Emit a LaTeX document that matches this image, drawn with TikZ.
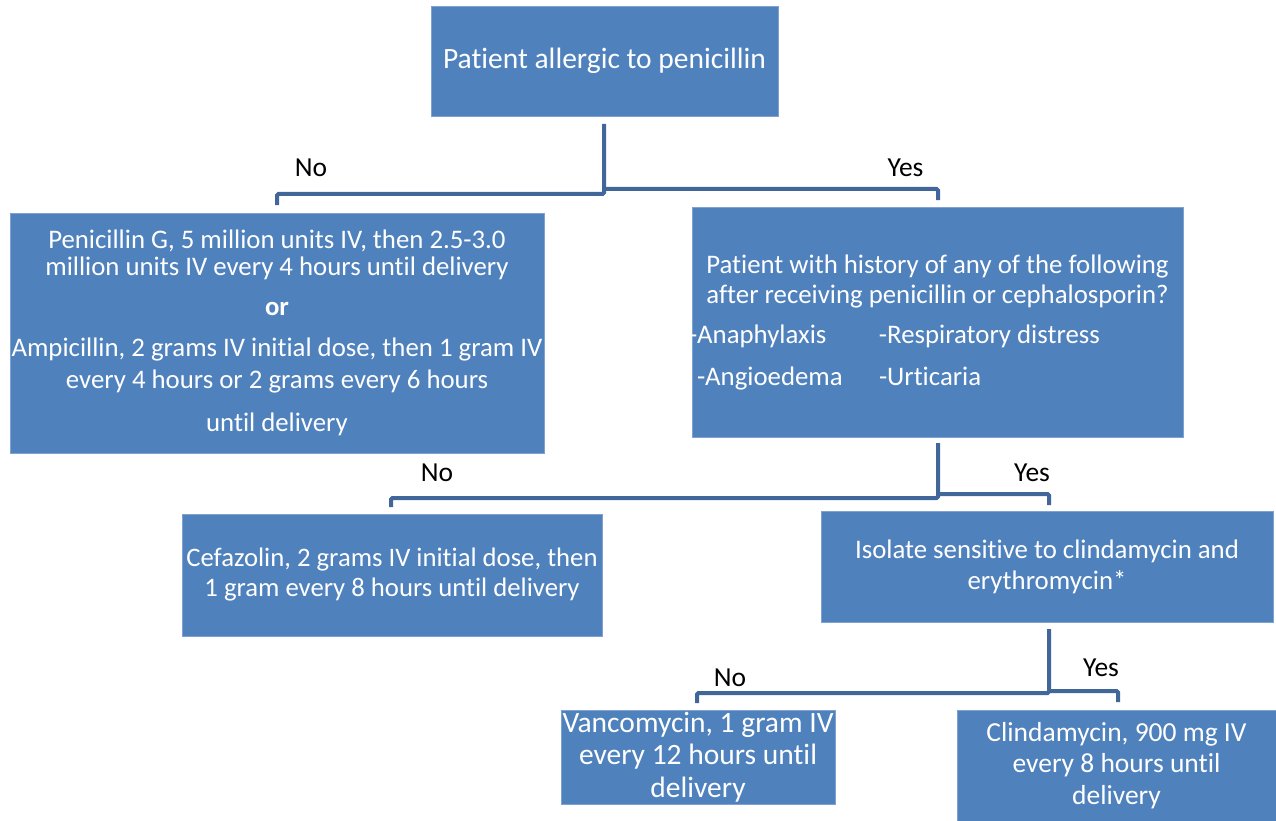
\documentclass[tikz,border=0pt]{standalone}
\usepackage{fontspec}
\setmainfont{Carlito}[Ligatures=NoCommon]
\usetikzlibrary{calc}
\definecolor{boxblue}{HTML}{4F81BD}
\definecolor{boxedge}{HTML}{7FA2D0}
\definecolor{connblue}{HTML}{41679A}
\tikzset{
  box/.style={rectangle, fill=boxblue, draw=boxedge, line width=0.8pt, text=white, align=center, inner sep=0pt},
  conn/.style={draw=connblue, line width=4pt, rounded corners=1.5pt},
  lbl/.style={text=black, font=\fontsize{27.5}{32}\selectfont, inner sep=0pt}
}
\begin{document}
\begin{tikzpicture}[x=1pt,y=-1pt]
\useasboundingbox (0,0) rectangle (1276,821);
% boxes
\node[box, minimum width=347pt, minimum height=110pt, font=\fontsize{29.5}{34}\selectfont] (b1) at (604.5,61) {\raisebox{-3pt}{Patient allergic to penicillin}};
\node[box, minimum width=534pt, minimum height=240pt, font=\fontsize{26.8}{27}\selectfont] (b2) at (277,333) {Penicillin G, 5 million units IV, then 2.5-3.0\\ million units IV every 4 hours until delivery\\[13pt] \textbf{or}\\[14pt] Ampicillin, 2 grams IV initial dose, then 1 gram IV\\[5pt] every 4 hours or 2 grams every 6 hours\\[16pt] until delivery};
\node[box, minimum width=491pt, minimum height=230pt, font=\fontsize{26.8}{30}\selectfont] (b3) at (937.5,322) {Patient with history of any of the following\\ after receiving penicillin or cephalosporin?\\[10pt] \makebox[489pt][l]{\hspace{-4pt}\makebox[190pt][l]{-Anaphylaxis}-Respiratory distress}\\[12pt] \makebox[489pt][l]{\hspace{4pt}\makebox[182pt][l]{-Angioedema}-Urticaria}};
\node[box, minimum width=420pt, minimum height=122pt, font=\fontsize{26.7}{30}\selectfont] (b4) at (392,575) {Cefazolin, 2 grams IV initial dose, then\\ 1 gram every 8 hours until delivery};
\node[box, minimum width=452pt, minimum height=111pt, font=\fontsize{26.8}{31}\selectfont] (b5) at (1047,566.5) {Isolate sensitive to clindamycin and\\ erythromycin*};
\node[box, minimum width=274pt, minimum height=94pt, font=\fontsize{29.5}{32.5}\selectfont] (b6) at (698,757) {\raisebox{-2pt}{\shortstack{Vancomycin, 1 gram IV\\[4pt] every 12 hours until\\[4pt] delivery}}};
\node[box, minimum width=319pt, minimum height=111pt, font=\fontsize{27.5}{32.5}\selectfont] (b7) at (1116.5,765.5) {\raisebox{-2pt}{\shortstack{Clindamycin, 900 mg IV\\[5pt] every 8 hours until\\[5pt] delivery}}};
% junction coordinates
\coordinate (s1) at (604,124);
\coordinate (j1) at (604,194);
\coordinate (n1) at (277,205);
\coordinate (y1) at (938,200);
\coordinate (s2) at (938,443);
\coordinate (j2) at (938,498);
\coordinate (n2) at (391,507);
\coordinate (y2) at (1049,505);
\coordinate (s3) at (1049,629);
\coordinate (j3) at (1049,693);
\coordinate (n3) at (697,703);
\coordinate (y3) at (1118,702);
% connectors
\draw[conn] (s1) -- (j1) -| (n1);
\draw[conn] ($(j1)+(0,-5)$) -| (y1);
\draw[conn] (s2) -- (j2) -| (n2);
\draw[conn] ($(j2)+(0,-4)$) -| (y2);
\draw[conn] (s3) -- (j3) -| (n3);
\draw[conn] ($(j3)+(0,-2)$) -| (y3);
% labels
\node[lbl] (l1) at (311,168) {No};
\node[lbl] (l2) at (905.5,168) {Yes};
\node[lbl] (l3) at (437,473) {No};
\node[lbl] (l4) at (1032,473) {Yes};
\node[lbl] (l5) at (730,678) {No};
\node[lbl] (l6) at (1101,668) {Yes};
\end{tikzpicture}
\end{document}
